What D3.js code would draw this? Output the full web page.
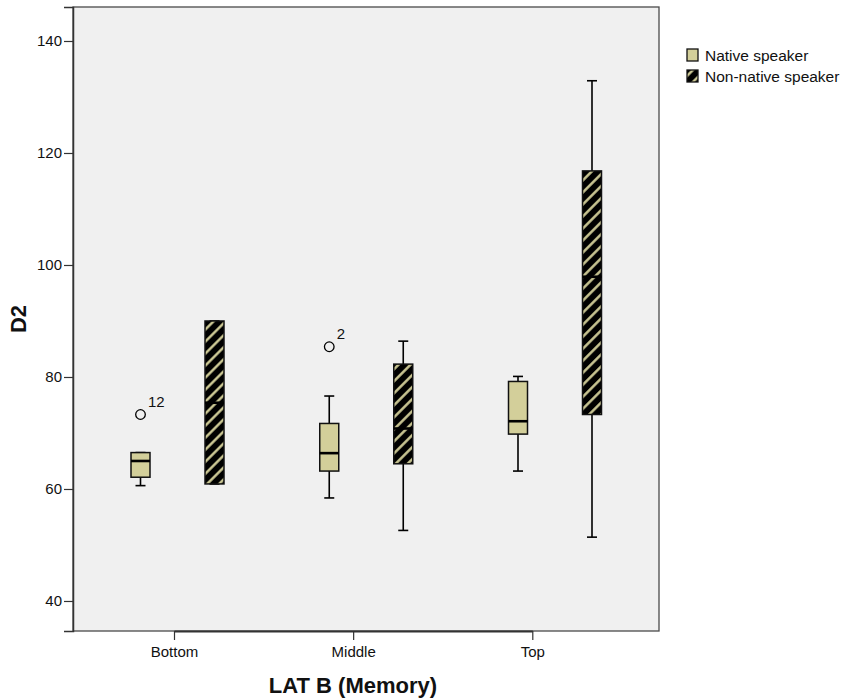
<!DOCTYPE html>
<html>
<head>
<meta charset="utf-8">
<script src="https://cdn.jsdelivr.net/npm/d3@7"></script>
<style>
  body { margin: 0; background: #fff; }
  svg { font-family: "Liberation Sans", Arial, sans-serif; }
</style>
</head>
<body>
<script>
// categories and series
const categories = ['Bottom', 'Middle', 'Top'];
const speakers = ['Native speaker', 'Non-native speaker'];

// [lower whisker, Q1, median, Q3, upper whisker]
const nativeBox = [
  [60.6, 62.1, 65.0, 66.5, 66.5],
  [58.4, 63.2, 66.4, 71.7, 76.6],
  [63.2, 69.8, 72.1, 79.2, 80.1]
];
const nonNativeBox = [
  [60.9, 60.9, 75.4, 90.0, 90.0],
  [52.6, 64.5, 70.8, 82.3, 86.4],
  [51.4, 73.3, 97.9, 116.8, 132.9]
];

const outlierCategory = ['Bottom', 'Middle'];
const outlierSpeaker = ['Native speaker', 'Native speaker'];
const outlierValue = [73.3, 85.4];
const outlierLabel = ['12', '2'];

const yTicks = [40, 60, 80, 100, 120, 140];

const width = 842;
const height = 700;
const plot = { left: 73, top: 7, right: 659, bottom: 631 };

const svg = d3.select('body')
  .append('svg')
  .attr('width', width)
  .attr('height', height);

const y = d3.scaleLinear()
  .domain([34.64, 146.07])
  .range([plot.bottom, plot.top]);

// box group centres and tick positions (ticks sit a bit left of the boxes in the original)
const xGroup = d3.scalePoint().domain(categories).range([177.5, 555]);
const xOffset = d3.scalePoint().domain(speakers).range([-37, 37]);
const xTick = d3.scalePoint().domain(categories).range([174, 532.3]);

const tan = '#d3cf9a';

const defs = svg.append('defs');
const pat = defs.append('pattern')
  .attr('id', 'hatch')
  .attr('patternUnits', 'userSpaceOnUse')
  .attr('width', 8.5)
  .attr('height', 8.5)
  .attr('patternTransform', 'rotate(45)');
pat.append('rect').attr('width', 8.5).attr('height', 8.5).attr('fill', '#000');
pat.append('rect').attr('x', 3).attr('width', 2.4).attr('height', 8.5).attr('fill', tan);

svg.append('rect')
  .attr('x', plot.left)
  .attr('y', plot.top)
  .attr('width', plot.right - plot.left)
  .attr('height', plot.bottom - plot.top)
  .attr('fill', '#f0f0f0')
  .attr('stroke', '#4a4a4a')
  .attr('stroke-width', 1.3);

// axes
const yAxis = svg.append('g')
  .attr('transform', `translate(${plot.left},0)`)
  .call(d3.axisLeft(y).tickValues(yTicks).tickSize(9).tickPadding(2).tickFormat(d3.format('d')));
yAxis.select('.domain').attr('stroke', '#333').attr('stroke-width', 1.5);
yAxis.selectAll('.tick line').attr('stroke', '#333').attr('stroke-width', 1.2);
yAxis.selectAll('.tick text')
  .attr('font-size', '15px')
  .attr('fill', '#111')
  .attr('font-family', '"Liberation Sans", Arial, sans-serif');

const xAxis = svg.append('g')
  .attr('transform', `translate(0,${plot.bottom})`)
  .call(d3.axisBottom(xTick).tickSize(9).tickPadding(6).tickSizeOuter(0));
xAxis.select('.domain').attr('stroke', '#333').attr('stroke-width', 2.2);
xAxis.selectAll('.tick line').attr('stroke', '#333').attr('stroke-width', 1.2);
xAxis.selectAll('.tick text')
  .attr('font-size', '15px')
  .attr('fill', '#111')
  .attr('font-family', '"Liberation Sans", Arial, sans-serif');

// boxes
const boxW = 19;
const capW = 10;
const boxes = [];
categories.forEach((c, i) => {
  boxes.push({ category: c, speaker: speakers[0], s: nativeBox[i] });
  boxes.push({ category: c, speaker: speakers[1], s: nonNativeBox[i] });
});

const g = svg.append('g');
const bx = g.selectAll('g.box').data(boxes).join('g').attr('class', 'box');

bx.each(function (d) {
  const el = d3.select(this);
  const cx = xGroup(d.category) + xOffset(d.speaker);
  const [lo, q1, med, q3, hi] = d.s;
  el.append('line')
    .attr('x1', cx).attr('x2', cx)
    .attr('y1', y(lo)).attr('y2', y(hi))
    .attr('stroke', '#000').attr('stroke-width', 1.6);
  [lo, hi].forEach(v => {
    el.append('line')
      .attr('x1', cx - capW / 2).attr('x2', cx + capW / 2)
      .attr('y1', y(v)).attr('y2', y(v))
      .attr('stroke', '#000').attr('stroke-width', 1.6);
  });
  el.append('rect')
    .attr('x', cx - boxW / 2)
    .attr('y', y(q3))
    .attr('width', boxW)
    .attr('height', y(q1) - y(q3))
    .attr('fill', d.speaker === speakers[0] ? tan : 'url(#hatch)')
    .attr('stroke', '#111')
    .attr('stroke-width', 1.5);
  el.append('line')
    .attr('x1', cx - boxW / 2).attr('x2', cx + boxW / 2)
    .attr('y1', y(med)).attr('y2', y(med))
    .attr('stroke', '#000').attr('stroke-width', 2.6);
});

// outliers
outlierValue.forEach((v, i) => {
  const cx = xGroup(outlierCategory[i]) + xOffset(outlierSpeaker[i]);
  g.append('circle')
    .attr('cx', cx).attr('cy', y(v)).attr('r', 4.8)
    .attr('fill', 'none').attr('stroke', '#000').attr('stroke-width', 1.3);
  g.append('text')
    .attr('x', cx + 7.5).attr('y', y(v) - 8)
    .attr('font-size', '15px')
    .attr('fill', '#111')
    .text(outlierLabel[i]);
});

// axis titles
svg.append('text')
  .attr('transform', `translate(26,${(plot.top + plot.bottom) / 2}) rotate(-90)`)
  .attr('text-anchor', 'middle')
  .attr('font-size', '22px')
  .attr('font-weight', 'bold')
  .attr('fill', '#111')
  .text('D2');

svg.append('text')
  .attr('x', 353)
  .attr('y', 693)
  .attr('text-anchor', 'middle')
  .attr('font-size', '22px')
  .attr('font-weight', 'bold')
  .attr('fill', '#111')
  .text('LAT B (Memory)');

// legend
const legend = svg.append('g').attr('transform', 'translate(687,49)');
speakers.forEach((s, i) => {
  const row = legend.append('g').attr('transform', `translate(0,${i * 21})`);
  row.append('rect')
    .attr('width', 11).attr('height', 12)
    .attr('fill', i === 0 ? tan : 'url(#hatch)')
    .attr('stroke', '#111').attr('stroke-width', 1.3);
  row.append('text')
    .attr('x', 18).attr('y', 12)
    .attr('font-size', '15.5px')
    .attr('fill', '#111')
    .text(s);
});
</script>
</body>
</html>
